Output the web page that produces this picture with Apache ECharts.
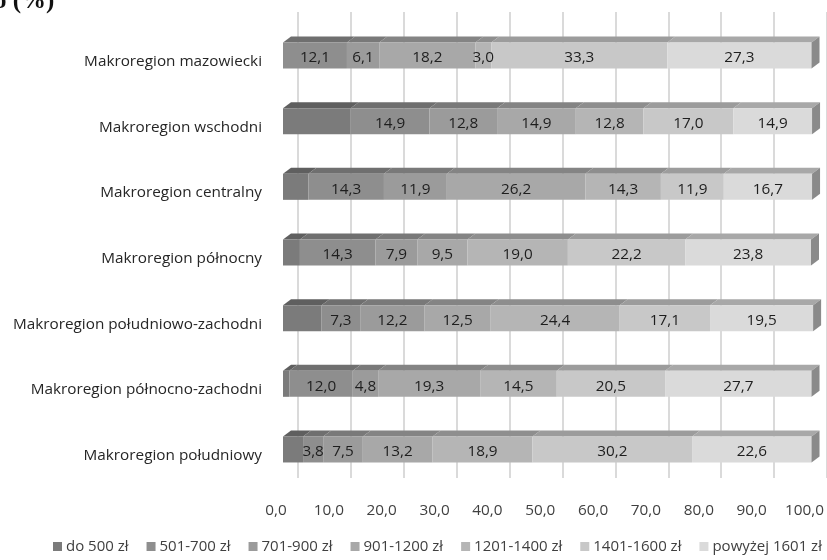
<!DOCTYPE html>
<html>
<head>
<meta charset="utf-8">
<script src="https://cdn.jsdelivr.net/npm/echarts@6/dist/echarts.min.js"></script>
<style>
  html, body { margin: 0; padding: 0; background: #ffffff; }
  #chart { width: 827px; height: 560px; }
</style>
</head>
<body>
<div id="chart"></div>
<script>
// Regions, top to bottom
const categories = [
  'Makroregion mazowiecki',
  'Makroregion wschodni',
  'Makroregion centralny',
  'Makroregion północny',
  'Makroregion południowo-zachodni',
  'Makroregion północno-zachodni',
  'Makroregion południowy'
];

// Income brackets (legend order)
const seriesNames = ['do 500 zł', '501-700 zł', '701-900 zł', '901-1200 zł', '1201-1400 zł', '1401-1600 zł', 'powyżej 1601 zł'];

// Shares in % per region (same order as categories)
const do500    = [0.0, 12.8, 4.8, 3.2, 7.3, 1.2, 3.8];
const d501_700 = [12.1, 14.9, 14.3, 14.3, 7.3, 12.0, 3.8];
const d701_900 = [6.1, 12.8, 11.9, 7.9, 12.2, 4.8, 7.5];
const d901_1200 = [18.2, 14.9, 26.2, 9.5, 12.5, 19.3, 13.2];
const d1201_1400 = [3.0, 12.8, 14.3, 19.0, 24.4, 14.5, 18.9];
const d1401_1600 = [33.3, 17.0, 11.9, 22.2, 17.1, 20.5, 30.2];
const above1601 = [27.3, 14.9, 16.7, 23.8, 19.5, 27.7, 22.6];

// Value axis ticks
const axisMin = 0, axisMax = 100, axisStep = 10;

const seriesValues = [do500, d501_700, d701_900, d901_1200, d1201_1400, d1401_1600, above1601];
const frontColors = ['#7b7b7b', '#8e8e8e', '#9b9b9b', '#a8a8a8', '#b5b5b5', '#c8c8c8', '#dadada'];
const topColors   = ['#5f5f5f', '#6f6f6f', '#797979', '#848484', '#8e8e8e', '#9c9c9c', '#a8a8a8'];
const sideColor = '#8a8a8a';
const FONT = '"Open Sans", sans-serif';
const labelFont = '15.3px ' + FONT;

const BAR_H = 26, DEPTH_X = 8, DEPTH_Y = 6;

function fmt(v) { return v.toFixed(1).replace('.', ','); }

function makeRender(si) {
  const isLast = si === seriesValues.length - 1;
  const labelled = si > 0;
  return function (params, api) {
    const cat = api.value(0);
    const start = api.value(1);
    const val = api.value(2);
    if (!val) return null;
    const a = api.coord([start, cat]);
    const b = api.coord([start + val, cat]);
    const yTop = a[1] - BAR_H / 2;
    const yBot = a[1] + BAR_H / 2;
    const children = [
      {
        type: 'polygon',
        z2: 1,
        shape: { points: [[a[0], yTop], [b[0], yTop], [b[0] + DEPTH_X, yTop - DEPTH_Y], [a[0] + DEPTH_X, yTop - DEPTH_Y]] },
        style: { fill: topColors[si] }
      },
      {
        type: 'rect',
        z2: 1,
        shape: { x: a[0], y: yTop, width: b[0] - a[0], height: BAR_H },
        style: { fill: frontColors[si] }
      }
    ];
    if (isLast) {
      children.push({
        type: 'polygon',
        z2: 1,
        shape: { points: [[b[0], yTop], [b[0] + DEPTH_X, yTop - DEPTH_Y], [b[0] + DEPTH_X, yBot - DEPTH_Y], [b[0], yBot]] },
        style: { fill: sideColor }
      });
    }
    if (labelled) {
      children.push({
        type: 'text',
        z2: 100,
        style: {
          text: fmt(val),
          x: (a[0] + b[0]) / 2,
          y: a[1] + 2.5,
          align: 'center',
          verticalAlign: 'middle',
          font: labelFont,
          fill: '#1e1e1e'
        }
      });
    }
    return { type: 'group', children: children };
  };
}

// Build stacked [categoryIndex, start, value] rows
const cumulative = categories.map(() => 0);
const series = seriesValues.map((vals, si) => {
  const rows = vals.map((v, ci) => {
    const row = [ci, cumulative[ci], v];
    cumulative[ci] += v;
    return row;
  });
  return {
    name: seriesNames[si],
    type: 'custom',
    xAxisIndex: 0,
    yAxisIndex: 0,
    renderItem: makeRender(si),
    encode: { x: [1, 2], y: 0 },
    itemStyle: { color: frontColors[si] },
    data: rows,
    z: 3
  };
});

// Back wall carrying the gridlines
series.push({ type: 'line', xAxisIndex: 1, yAxisIndex: 1, data: [], silent: true });
// Category captions sit level with the front floor edge
series.push({ type: 'line', xAxisIndex: 2, yAxisIndex: 2, data: [], silent: true });

const chart = echarts.init(document.getElementById('chart'), null, { renderer: 'canvas' });
chart.setOption({
  animation: false,
  backgroundColor: '#ffffff',
  graphic: [{
    type: 'text',
    left: -6,
    top: -11,
    style: { text: 'o (%)', font: 'bold 25px "Liberation Serif", serif', fill: '#111111' }
  }],
  legend: {
    data: seriesNames,
    orient: 'horizontal',
    left: 48,
    bottom: 1,
    width: 800,
    icon: 'rect',
    itemWidth: 9,
    itemHeight: 9,
    itemGap: 18,
    textStyle: { fontFamily: 'Open Sans', fontSize: 15, color: '#404040', padding: [0, 0, 0, -1] }
  },
  grid: [
    { left: 283, right: 14, top: 22.7, bottom: 77.7 },
    { left: 298, right: -3, top: 12, bottom: 82 },
    { left: 283, right: 14, top: 28.7, bottom: 71.7 }
  ],
  xAxis: [
    {
      gridIndex: 0,
      type: 'value',
      min: axisMin,
      max: axisMax,
      interval: axisStep,
      axisLine: { show: false },
      axisTick: { show: false },
      splitLine: { show: false },
      axisLabel: {
        margin: 21,
        formatter: fmt,
        fontFamily: 'Open Sans',
        fontSize: 15.3,
        color: '#404040',
        padding: [0, 14, 0, 0]
      }
    },
    {
      gridIndex: 1,
      type: 'value',
      min: axisMin,
      max: axisMax,
      interval: axisStep,
      axisLine: { show: false },
      axisTick: { show: false },
      axisLabel: { show: false },
      splitLine: { show: true, lineStyle: { color: '#dadada', width: 2 } }
    },
    {
      gridIndex: 2,
      type: 'value',
      min: axisMin,
      max: axisMax,
      show: false
    }
  ],
  yAxis: [
    {
      gridIndex: 0,
      type: 'category',
      data: categories,
      inverse: true,
      axisLine: { show: false },
      axisTick: { show: false },
      axisLabel: { show: false }
    },
    {
      gridIndex: 1,
      type: 'value',
      show: false
    },
    {
      gridIndex: 2,
      type: 'category',
      data: categories,
      inverse: true,
      axisLine: { show: false },
      axisTick: { show: false },
      splitLine: { show: false },
      axisLabel: {
        margin: 21,
        fontFamily: 'Open Sans',
        fontSize: 15.3,
        color: '#262626'
      }
    }
  ],
  series: series
});
</script>
</body>
</html>
